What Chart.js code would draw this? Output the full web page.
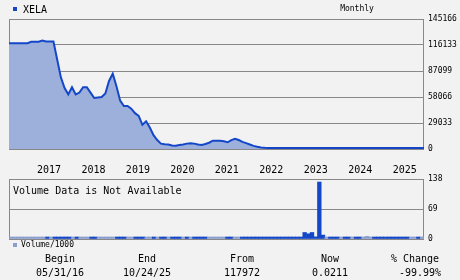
<!DOCTYPE html>
<html>
<head>
<meta charset="utf-8">
<script src="https://cdn.jsdelivr.net/npm/chart.js@4.4.1/dist/chart.umd.min.js"></script>
<style>
  html, body { margin: 0; padding: 0; background: #f2f2f2; }
  #wrap { position: relative; width: 460px; height: 280px; overflow: hidden;
          font-family: 'DejaVu Sans Mono', monospace; color: #000; }
  canvas { position: absolute; left: 0; }
  .t { position: absolute; white-space: nowrap; line-height: 1; transform: translate(-50%, -50%); }
  .l { position: absolute; white-space: nowrap; line-height: 1; transform: translateY(-50%); }
  .sq { position: absolute; width: 4px; height: 4px; }
</style>
</head>
<body>
<div id="wrap">
  <canvas id="priceChart" width="460" height="180" style="top:0"></canvas>
  <canvas id="volChart" width="460" height="80" style="top:170px"></canvas>

  <div class="sq" style="left:13px; top:7px; background:#1447c8"></div>
  <div class="l" style="left:23px; top:9.5px; font-size:10px">XELA</div>
  <div class="t" style="left:357px; top:9px; font-size:8px">Monthly</div>

  <div class="l" style="left:13px; top:191px; font-size:10px">Volume Data is Not Available</div>
  <div class="sq" style="left:13px; top:243px; background:#8a9dcd"></div>
  <div class="l" style="left:21px; top:245px; font-size:8px">Volume/1000</div>

  <div class="t" style="left:60px; top:259px; font-size:10px">Begin</div>
  <div class="t" style="left:60px; top:273px; font-size:10px">05/31/16</div>
  <div class="t" style="left:147px; top:259px; font-size:10px">End</div>
  <div class="t" style="left:147px; top:273px; font-size:10px">10/24/25</div>
  <div class="t" style="left:242px; top:259px; font-size:10px">From</div>
  <div class="t" style="left:242px; top:273px; font-size:10px">117972</div>
  <div class="t" style="left:330px; top:259px; font-size:10px">Now</div>
  <div class="t" style="left:330px; top:273px; font-size:10px">0.0211</div>
  <div class="t" style="left:415px; top:259px; font-size:10px">% Change</div>
  <div class="t" style="left:420px; top:273px; font-size:10px">-99.99%</div>
</div>

<script>
// monthly closes, Jun 2016 .. Oct 2025
const START_YEAR = 2016, START_MONTH = 6, N_MONTHS = 113;
const months = [];
for (let i = 0; i < N_MONTHS; i++) {
    const m = START_MONTH - 1 + i;
    const y = START_YEAR + Math.floor(m / 12);
    months.push(y + '-' + String(m % 12 + 1).padStart(2, '0'));
}

const priceValues = [
    118000, 118200, 118200, 118200, 118200, 118200, 119800, 119800, 119800, 121000,
    120000, 120000, 120000, 100000, 80000, 68000, 61000, 69000, 61000, 63000,
    69000, 69000, 63000, 57000, 57500, 58000, 62000, 76000, 84000, 70000,
    54000, 48000, 48000, 45000, 40000, 37000, 27000, 31000, 24000, 15500,
    10000, 6000, 5300, 5000, 4000, 3700, 4500, 5000, 6000, 6400,
    6000, 5000, 4500, 5600, 7000, 9300, 9300, 9300, 8600, 7500,
    10000, 11500, 10000, 8000, 6500, 5000, 3500, 2600, 1800, 1300,
    1200, 1150, 1100, 1100, 1100, 1100, 1100, 1100, 1100, 1100,
    1100, 1100, 1100, 1100, 1100, 1100, 1100, 1100, 1100, 1100,
    1100, 1100, 1100, 1100, 1100, 1100, 1100, 1100, 1100, 1100,
    1100, 1100, 1100, 1100, 1100, 1100, 1100, 1100, 1100, 1100,
    1100, 1100, 1100
];

// volume in thousands, and whether the month closed up (1) or down (0)
const volumeValues = [
    1, 1, 1, 1, 1, 1, 1, 1, 1, 1,
    1, 1, 1, 1, 1, 1, 1, 1, 1, 1,
    1, 1, 1, 1, 1, 1, 1, 1, 1, 1,
    1, 1, 1, 1, 1, 1, 1, 1, 1, 1,
    1, 1, 1, 1, 1, 1, 1, 1, 1, 1,
    1, 1, 1, 1, 1, 1, 1, 1, 1, 1,
    1, 1, 1, 1, 1, 1, 1, 1, 1, 1,
    1, 1, 1, 1, 1, 1, 1, 1, 1, 1,
    15, 12, 15, 5, 131, 9, 2, 2, 1, 1,
    1, 1, 1, 1, 1, 1, 1, 6, 1, 1,
    1, 1, 3, 1, 1, 1, 1, 1, 1, 1,
    1, 1, 1
];
const volumeUp = [
    0, 0, 0, 0, 0, 0, 0, 0, 0, 0,
    1, 0, 1, 1, 1, 1, 1, 0, 1, 0,
    0, 0, 1, 1, 0, 0, 0, 0, 0, 1,
    1, 1, 0, 0, 1, 1, 1, 0, 0, 1,
    0, 1, 1, 0, 1, 1, 1, 0, 1, 0,
    1, 1, 1, 1, 0, 0, 0, 0, 0, 1,
    1, 0, 0, 1, 1, 1, 1, 1, 1, 1,
    1, 1, 1, 1, 1, 1, 1, 1, 1, 1,
    1, 1, 1, 1, 1, 1, 0, 1, 1, 1,
    0, 1, 1, 0, 1, 1, 0, 0, 0, 1,
    1, 1, 1, 1, 1, 1, 1, 1, 1, 0,
    0, 1, 0
];

const priceTicks = [0, 29033, 58066, 87099, 116133, 145166];
const volumeTicks = [0, 69, 138];

const FONT = 'DejaVu Sans Mono';
const LINE_BLUE = '#1447c8';
const FILL_BLUE = '#9db0dc';
const LIGHT_BLUE = '#8a9dcd';
const GRID = '#888888';

// gray box round the plot area
const framePlugin = {
    id: 'frame',
    beforeDatasetsDraw(chart) {
        const a = chart.chartArea;
        const c = chart.ctx;
        c.save();
        c.strokeStyle = GRID;
        c.lineWidth = 1;
        c.strokeRect(Math.round(a.left) + 0.5, Math.round(a.top) + 0.5,
                     Math.round(a.right - a.left) - 1, Math.round(a.bottom - a.top));
        c.restore();
    }
};

new Chart(document.getElementById('priceChart'), {
    type: 'line',
    data: {
        labels: months,
        datasets: [{
            data: priceValues,
            borderColor: LINE_BLUE,
            backgroundColor: FILL_BLUE,
            borderWidth: 2,
            fill: 'origin',
            pointRadius: 0,
            tension: 0
        }]
    },
    options: {
        responsive: false,
        animation: false,
        layout: { padding: { top: 19, left: 9, right: 0, bottom: 0 } },
        plugins: { legend: { display: false }, tooltip: { enabled: false } },
        scales: {
            x: {
                grid: { display: false, drawTicks: false },
                border: { display: false },
                afterBuildTicks(s) {
                    s.ticks = s.ticks.filter(t => months[t.value].endsWith('-01'));
                },
                afterFit(s) { s.height = 31; },
                ticks: {
                    autoSkip: false, maxRotation: 0, minRotation: 0,
                    align: 'start', labelOffset: 2, padding: 15,
                    color: '#000', font: { family: FONT, size: 10 },
                    callback(v) { return this.getLabelForValue(v).slice(0, 4); }
                }
            },
            y: {
                position: 'right',
                min: 0, max: 145166,
                afterBuildTicks(s) { s.ticks = priceTicks.map(v => ({ value: v })); },
                afterFit(s) { s.width = 36; },
                grid: { color: GRID, drawTicks: false },
                border: { display: false },
                ticks: {
                    padding: 4, color: '#000', font: { family: FONT, size: 8 },
                    callback: v => String(v)
                }
            }
        }
    },
    plugins: [framePlugin]
});

new Chart(document.getElementById('volChart'), {
    type: 'bar',
    data: {
        labels: months,
        datasets: [{
            data: volumeValues,
            backgroundColor: volumeUp.map(u => u ? LINE_BLUE : LIGHT_BLUE),
            borderWidth: 0,
            barPercentage: 1,
            categoryPercentage: 1,
            minBarLength: 2
        }]
    },
    options: {
        responsive: false,
        animation: false,
        layout: { padding: { top: 9, left: 9, right: 0, bottom: 11 } },
        plugins: { legend: { display: false }, tooltip: { enabled: false } },
        scales: {
            x: { display: false },
            y: {
                position: 'right',
                min: 0, max: 138,
                afterBuildTicks(s) { s.ticks = volumeTicks.map(v => ({ value: v })); },
                afterFit(s) { s.width = 36; },
                grid: { color: GRID, drawTicks: false },
                border: { display: false },
                ticks: {
                    padding: 4, color: '#000', font: { family: FONT, size: 8 },
                    callback: v => String(v)
                }
            }
        }
    },
    plugins: [framePlugin]
});
</script>
</body>
</html>
